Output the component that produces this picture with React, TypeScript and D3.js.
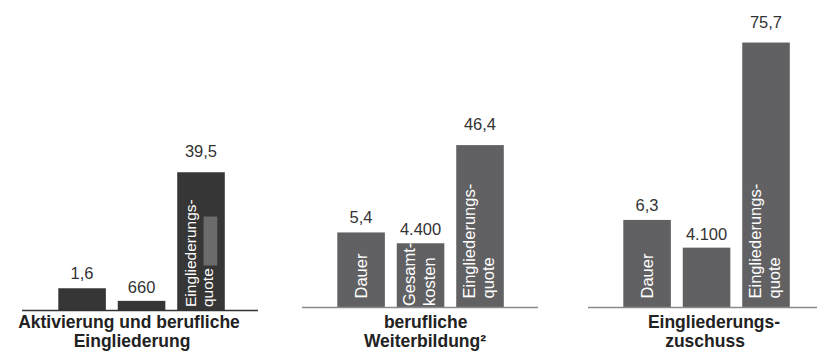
import React from "react";
import * as d3 from "d3";

// ---- data ----
const panelTitles: string[][] = [
  ["Aktivierung und berufliche", "Eingliederung"],
  ["berufliche", "Weiterbildung²"],
  ["Eingliederungs-", "zuschuss"],
];
const measures = ["Dauer", "Gesamtkosten", "Eingliederungsquote"];
const dauerValues = [1.6, 5.4, 6.3];
const kostenValues = [660, 4400, 4100];
const quoteValues = [39.5, 46.4, 75.7];
const barLabels: string[][][] = [
  [[], [], ["Eingliederungs-", "quote"]],
  [["Dauer"], ["Gesamt-", "kosten"], ["Eingliederungs-", "quote"]],
  [["Dauer"], [], ["Eingliederungs-", "quote"]],
];

// ---- layout ----
const W = 817;
const H = 351;
const FONT = "'Liberation Sans', Arial, Helvetica, sans-serif";
const panels = [
  { x0: 58.3, base: 310.5, bar: "#363636", axis: "#333333", axisX: [22, 258], titleX: [129, 132], startOff: 3.5, gap: [-5, 12], inner: 15.5 },
  { x0: 337.3, base: 307.5, bar: "#616163", axis: "#8a8a8a", axisX: [302, 538], titleX: [425.7, 425], startOff: 9, gap: [-5.5, 14], inner: 16.5 },
  { x0: 623.3, base: 307.5, bar: "#616163", axis: "#8a8a8a", axisX: [588, 817], titleX: [714, 705], startOff: 9, gap: [-5.5, 14], inner: 16.5 },
];
const groupWidth = 166.5;

const loc = d3.formatLocale({ decimal: ",", thousands: ".", grouping: [3], currency: ["", "€"] });
const fmtDec = loc.format(".1f");
const fmtInt = loc.format(",.0f");

const yDauer = d3.scaleLinear().domain([0, 10]).range([0, 139]);
const yKosten = d3.scaleLinear().domain([0, 10000]).range([0, 146]);
const yQuote = d3.scaleLinear().domain([0, 100]).range([0, 350]);

export default function App() {
  return (
    <svg width={W} height={H} style={{ position: "absolute", left: 0, top: 0, background: "#fff" }} fontFamily={FONT}>
      {panels.map((p, pi) => {
        const x = d3.scaleBand<string>().domain(measures).range([p.x0, p.x0 + groupWidth]).paddingInner(0.2).paddingOuter(0);
        const vals = [dauerValues[pi], kostenValues[pi], quoteValues[pi]];
        const scales = [yDauer, yKosten, yQuote];
        const texts = [fmtDec(dauerValues[pi]), fmtInt(kostenValues[pi]), fmtDec(quoteValues[pi])];
        const labelOff = [9, 8, 15];
        return (
          <g key={pi}>
            {measures.map((m, mi) => {
              const h = scales[mi](vals[mi]);
              const bx = x(m)!;
              const bw = x.bandwidth();
              const c = bx + bw / 2;
              const top = p.base - h;
              const lines = barLabels[pi][mi];
              const startOff = pi > 0 && mi === 1 ? 1.5 : p.startOff;
              return (
                <g key={m}>
                  <rect x={bx} y={top} width={bw} height={h} fill={p.bar} />
                  {pi === 0 && mi === 2 && (
                    <rect x={bx + 26.3} y={top + 44.3} width={13.7} height={49} fill="#6b6b6b" />
                  )}
                  <text x={c} y={top - labelOff[mi]} textAnchor="middle" fontSize={16.5} fill="#333">
                    {texts[mi]}
                  </text>
                  {lines.map((ln, li) => {
                    const tx = lines.length === 1 ? c + 5.5 : c + p.gap[li];
                    const ty = p.base - startOff;
                    return (
                      <text key={li} transform={`translate(${tx},${ty}) rotate(-90)`} fontSize={p.inner} fill="#fff">
                        {ln}
                      </text>
                    );
                  })}
                </g>
              );
            })}
            <line x1={p.axisX[0]} x2={p.axisX[1]} y1={p.base} y2={p.base} stroke={p.axis} strokeWidth={1.6} />
            {panelTitles[pi].map((t, ti) => (
              <text key={ti} x={p.titleX[ti]} y={328 + ti * 19} textAnchor="middle" fontSize={17.5} fontWeight="bold" fill="#222">
                {t}
              </text>
            ))}
          </g>
        );
      })}
    </svg>
  );
}
